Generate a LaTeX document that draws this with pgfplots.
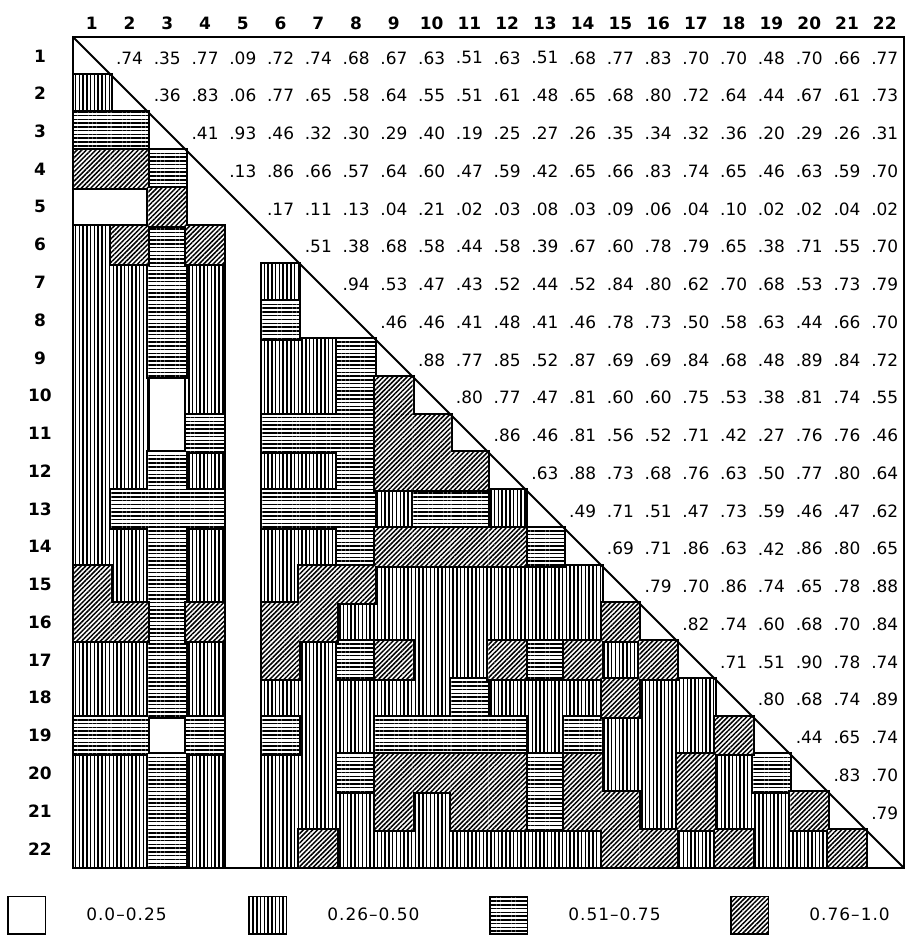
\documentclass[border=0pt]{standalone}
\usepackage{fontspec}
\setmainfont{DejaVu Sans}
\newfontfamily\legfont[LetterSpace=6]{DejaVu Sans}
\usepackage{pgfplots}
\usepackage{pgfplotstable}
\pgfplotsset{compat=1.18}
\usetikzlibrary{patterns.meta}
\tikzset{
  patV/.style={pattern={Lines[angle=90,distance=1.8909pt,line width=0.75pt]}, pattern color=black},
  patH/.style={pattern={Lines[angle=0,distance=1.8909pt,line width=0.75pt]}, pattern color=black},
  patD/.style={pattern={Lines[angle=45,distance=1.6713pt,line width=0.75pt]}, pattern color=black},
}
\pgfdeclareplotmark{cellS}{\path[draw=black, line width=2pt] (-9.4545pt,-9.4545pt) rectangle (9.4545pt,9.4545pt);}
\pgfdeclareplotmark{cellW}{\path[fill=white, draw=none] (-9.4545pt,-9.4545pt) rectangle (9.4545pt,9.4545pt);}
\pgfdeclareplotmark{cellV}{\path[fill=white, draw=none] (-9.4545pt,-9.4545pt) rectangle (9.4545pt,9.4545pt);\path[patV, draw=none] (-9.4545pt,-9.4545pt) rectangle (9.4545pt,9.4545pt);}
\pgfdeclareplotmark{cellH}{\path[fill=white, draw=none] (-9.4545pt,-9.4545pt) rectangle (9.4545pt,9.4545pt);\path[patH, draw=none] (-9.4545pt,-9.4545pt) rectangle (9.4545pt,9.4545pt);}
\pgfdeclareplotmark{cellD}{\path[fill=white, draw=none] (-9.4545pt,-9.4545pt) rectangle (9.4545pt,9.4545pt);\path[patD, draw=none] (-9.4545pt,-9.4545pt) rectangle (9.4545pt,9.4545pt);}
% lower triangle: cells (column x, row y) by class
\pgfplotstableread[row sep=\\]{x y\\
1 5\\ 2 5\\ 4 5\\ 7 8\\ 3 10\\ 3 11\\ 3 19\\
5 6\\ 5 7\\ 5 8\\ 5 9\\ 5 10\\ 5 11\\ 5 12\\ 5 13\\ 5 14\\ 5 15\\ 5 16\\ 5 17\\ 5 18\\ 5 19\\ 5 20\\ 5 21\\ 5 22\\
}\cellsW
\pgfplotstableread[row sep=\\]{x y\\
1 2\\ 1 6\\
1 7\\ 2 7\\ 4 7\\ 6 7\\
1 8\\ 2 8\\ 4 8\\
1 9\\ 2 9\\ 4 9\\ 6 9\\ 7 9\\
1 10\\ 2 10\\ 4 10\\ 6 10\\ 7 10\\
1 11\\ 2 11\\
1 12\\ 2 12\\ 4 12\\ 6 12\\ 7 12\\
1 13\\ 9 13\\ 12 13\\
1 14\\ 2 14\\ 4 14\\ 6 14\\ 7 14\\
2 15\\ 4 15\\ 6 15\\ 9 15\\ 10 15\\ 11 15\\ 12 15\\ 13 15\\ 14 15\\
8 16\\ 9 16\\ 10 16\\ 11 16\\ 12 16\\ 13 16\\ 14 16\\
1 17\\ 2 17\\ 4 17\\ 7 17\\ 10 17\\ 11 17\\ 15 17\\
1 18\\ 2 18\\ 4 18\\ 6 18\\ 7 18\\ 8 18\\ 9 18\\ 10 18\\ 12 18\\ 13 18\\ 14 18\\ 16 18\\ 17 18\\
7 19\\ 8 19\\ 13 19\\ 15 19\\ 16 19\\ 17 19\\
1 20\\ 2 20\\ 4 20\\ 6 20\\ 7 20\\ 15 20\\ 16 20\\ 18 20\\
1 21\\ 2 21\\ 4 21\\ 6 21\\ 7 21\\ 8 21\\ 10 21\\ 16 21\\ 18 21\\ 19 21\\
1 22\\ 2 22\\ 4 22\\ 6 22\\ 8 22\\ 9 22\\ 10 22\\ 11 22\\ 12 22\\ 13 22\\ 14 22\\ 17 22\\ 19 22\\ 20 22\\
}\cellsV
\pgfplotstableread[row sep=\\]{x y\\
1 3\\ 2 3\\ 3 4\\ 3 6\\ 3 7\\ 3 8\\ 6 8\\ 3 9\\ 8 9\\ 8 10\\
4 11\\ 6 11\\ 7 11\\ 8 11\\ 3 12\\ 8 12\\
2 13\\ 3 13\\ 4 13\\ 6 13\\ 7 13\\ 8 13\\ 10 13\\ 11 13\\
3 14\\ 8 14\\ 13 14\\ 3 15\\ 3 16\\ 3 17\\ 8 17\\ 13 17\\ 3 18\\ 11 18\\
1 19\\ 2 19\\ 4 19\\ 6 19\\ 9 19\\ 10 19\\ 11 19\\ 12 19\\ 14 19\\
3 20\\ 8 20\\ 13 20\\ 19 20\\ 3 21\\ 13 21\\ 3 22\\
}\cellsH
\pgfplotstableread[row sep=\\]{x y\\
1 4\\ 2 4\\ 3 5\\ 2 6\\ 4 6\\ 9 10\\ 9 11\\ 10 11\\ 9 12\\ 10 12\\ 11 12\\
9 14\\ 10 14\\ 11 14\\ 12 14\\ 1 15\\ 7 15\\ 8 15\\
1 16\\ 2 16\\ 4 16\\ 6 16\\ 7 16\\ 15 16\\
6 17\\ 9 17\\ 12 17\\ 14 17\\ 16 17\\ 15 18\\ 18 19\\
9 20\\ 10 20\\ 11 20\\ 12 20\\ 14 20\\ 17 20\\
9 21\\ 11 21\\ 12 21\\ 14 21\\ 15 21\\ 17 21\\ 20 21\\
7 22\\ 15 22\\ 16 22\\ 18 22\\ 21 22\\
}\cellsD
\begin{document}
\begin{tikzpicture}
\begin{axis}[
  scale only axis, width=416pt, height=416pt,
  xmin=0.5, xmax=22.5, ymin=0.5, ymax=22.5,
  y dir=reverse,
  axis on top,
  clip marker paths=true,
  axis line style={line width=1pt},
  xtick={1,...,22}, ytick={1,...,22},
  major tick length=0pt,
  xticklabel pos=right,
  /pgf/number format/assume math mode=true,
  xticklabel style={anchor=center, yshift=7pt, font=\fontsize{8.5}{10}\selectfont\bfseries},
  yticklabel style={anchor=center, xshift=-16.5pt, font=\fontsize{8.5}{10}\selectfont\bfseries},
  legend columns=4,
  legend style={at={(axis description cs:0,0)}, anchor=north west, xshift=-33pt, yshift=-14pt,
    draw=none, fill=none, inner sep=0pt, outer sep=0pt, nodes={inner sep=0pt},
    /tikz/every odd column/.style={column sep=0pt},
    font=\legfont\fontsize{8.5}{10}\selectfont},
  legend cell align=left,
]
% 0.0-0.25 (no outline of its own)
\addplot[only marks, mark=cellW,
  legend image code/.code={\draw[line width=0.8pt] (0pt,-9.45pt) rectangle (18.9pt,9.45pt);}]
  table {\cellsW};
\addlegendentry{\makebox[101pt][l]{\hspace{20pt}0.0\textendash0.25}}
% 0.26-0.50
\addplot[forget plot, only marks, mark=cellS] table {\cellsV};
\addplot[only marks, mark=cellV,
  legend image code/.code={\draw[patV, line width=0.8pt] (0pt,-9.45pt) rectangle (18.9pt,9.45pt);}]
  table {\cellsV};
\addlegendentry{\makebox[101pt][l]{\hspace{20pt}0.26\textendash0.50}}
% 0.51-0.75
\addplot[forget plot, only marks, mark=cellS] table {\cellsH};
\addplot[only marks, mark=cellH,
  legend image code/.code={\draw[patH, line width=0.8pt] (0pt,-9.45pt) rectangle (18.9pt,9.45pt);}]
  table {\cellsH};
\addlegendentry{\makebox[101pt][l]{\hspace{20pt}0.51\textendash0.75}}
% 0.76-1.0
\addplot[forget plot, only marks, mark=cellS] table {\cellsD};
\addplot[only marks, mark=cellD,
  legend image code/.code={\draw[patD, line width=0.8pt] (0pt,-9.45pt) rectangle (18.9pt,9.45pt);}]
  table {\cellsD};
\addlegendentry{\hspace{20pt}0.76\textendash1.0}
% upper triangle values
\addplot[forget plot, only marks, mark=none, point meta=explicit,
  nodes near coords={\pgfmathprintnumber[fixed,fixed zerofill,precision=2,skip 0.]{\pgfplotspointmeta}},
  every node near coord/.append style={anchor=center, yshift=-1pt, font=\fontsize{8.5}{10}\selectfont}]
coordinates {
 (2,1)[0.74] (3,1)[0.35] (4,1)[0.77] (5,1)[0.09] (6,1)[0.72] (7,1)[0.74] (8,1)[0.68] (9,1)[0.67] (10,1)[0.63] (11,1)[0.51] (12,1)[0.63] (13,1)[0.51] (14,1)[0.68] (15,1)[0.77] (16,1)[0.83] (17,1)[0.70] (18,1)[0.70] (19,1)[0.48] (20,1)[0.70] (21,1)[0.66] (22,1)[0.77]
 (3,2)[0.36] (4,2)[0.83] (5,2)[0.06] (6,2)[0.77] (7,2)[0.65] (8,2)[0.58] (9,2)[0.64] (10,2)[0.55] (11,2)[0.51] (12,2)[0.61] (13,2)[0.48] (14,2)[0.65] (15,2)[0.68] (16,2)[0.80] (17,2)[0.72] (18,2)[0.64] (19,2)[0.44] (20,2)[0.67] (21,2)[0.61] (22,2)[0.73]
 (4,3)[0.41] (5,3)[0.93] (6,3)[0.46] (7,3)[0.32] (8,3)[0.30] (9,3)[0.29] (10,3)[0.40] (11,3)[0.19] (12,3)[0.25] (13,3)[0.27] (14,3)[0.26] (15,3)[0.35] (16,3)[0.34] (17,3)[0.32] (18,3)[0.36] (19,3)[0.20] (20,3)[0.29] (21,3)[0.26] (22,3)[0.31]
 (5,4)[0.13] (6,4)[0.86] (7,4)[0.66] (8,4)[0.57] (9,4)[0.64] (10,4)[0.60] (11,4)[0.47] (12,4)[0.59] (13,4)[0.42] (14,4)[0.65] (15,4)[0.66] (16,4)[0.83] (17,4)[0.74] (18,4)[0.65] (19,4)[0.46] (20,4)[0.63] (21,4)[0.59] (22,4)[0.70]
 (6,5)[0.17] (7,5)[0.11] (8,5)[0.13] (9,5)[0.04] (10,5)[0.21] (11,5)[0.02] (12,5)[0.03] (13,5)[0.08] (14,5)[0.03] (15,5)[0.09] (16,5)[0.06] (17,5)[0.04] (18,5)[0.10] (19,5)[0.02] (20,5)[0.02] (21,5)[0.04] (22,5)[0.02]
 (7,6)[0.51] (8,6)[0.38] (9,6)[0.68] (10,6)[0.58] (11,6)[0.44] (12,6)[0.58] (13,6)[0.39] (14,6)[0.67] (15,6)[0.60] (16,6)[0.78] (17,6)[0.79] (18,6)[0.65] (19,6)[0.38] (20,6)[0.71] (21,6)[0.55] (22,6)[0.70]
 (8,7)[0.94] (9,7)[0.53] (10,7)[0.47] (11,7)[0.43] (12,7)[0.52] (13,7)[0.44] (14,7)[0.52] (15,7)[0.84] (16,7)[0.80] (17,7)[0.62] (18,7)[0.70] (19,7)[0.68] (20,7)[0.53] (21,7)[0.73] (22,7)[0.79]
 (9,8)[0.46] (10,8)[0.46] (11,8)[0.41] (12,8)[0.48] (13,8)[0.41] (14,8)[0.46] (15,8)[0.78] (16,8)[0.73] (17,8)[0.50] (18,8)[0.58] (19,8)[0.63] (20,8)[0.44] (21,8)[0.66] (22,8)[0.70]
 (10,9)[0.88] (11,9)[0.77] (12,9)[0.85] (13,9)[0.52] (14,9)[0.87] (15,9)[0.69] (16,9)[0.69] (17,9)[0.84] (18,9)[0.68] (19,9)[0.48] (20,9)[0.89] (21,9)[0.84] (22,9)[0.72]
 (11,10)[0.80] (12,10)[0.77] (13,10)[0.47] (14,10)[0.81] (15,10)[0.60] (16,10)[0.60] (17,10)[0.75] (18,10)[0.53] (19,10)[0.38] (20,10)[0.81] (21,10)[0.74] (22,10)[0.55]
 (12,11)[0.86] (13,11)[0.46] (14,11)[0.81] (15,11)[0.56] (16,11)[0.52] (17,11)[0.71] (18,11)[0.42] (19,11)[0.27] (20,11)[0.76] (21,11)[0.76] (22,11)[0.46]
 (13,12)[0.63] (14,12)[0.88] (15,12)[0.73] (16,12)[0.68] (17,12)[0.76] (18,12)[0.63] (19,12)[0.50] (20,12)[0.77] (21,12)[0.80] (22,12)[0.64]
 (14,13)[0.49] (15,13)[0.71] (16,13)[0.51] (17,13)[0.47] (18,13)[0.73] (19,13)[0.59] (20,13)[0.46] (21,13)[0.47] (22,13)[0.62]
 (15,14)[0.69] (16,14)[0.71] (17,14)[0.86] (18,14)[0.63] (19,14)[0.42] (20,14)[0.86] (21,14)[0.80] (22,14)[0.65]
 (16,15)[0.79] (17,15)[0.70] (18,15)[0.86] (19,15)[0.74] (20,15)[0.65] (21,15)[0.78] (22,15)[0.88]
 (17,16)[0.82] (18,16)[0.74] (19,16)[0.60] (20,16)[0.68] (21,16)[0.70] (22,16)[0.84]
 (18,17)[0.71] (19,17)[0.51] (20,17)[0.90] (21,17)[0.78] (22,17)[0.74]
 (19,18)[0.80] (20,18)[0.68] (21,18)[0.74] (22,18)[0.89]
 (20,19)[0.44] (21,19)[0.65] (22,19)[0.74]
 (21,20)[0.83] (22,20)[0.70]
 (22,21)[0.79]
};
% diagonal
\addplot[forget plot, black, line width=1pt] coordinates {(0.5,0.5) (22.5,22.5)};
\end{axis}
\path ([xshift=-36.5pt,yshift=-33.5pt]current axis.south west) rectangle ([xshift=7.5pt,yshift=18.5pt]current axis.north east);
\end{tikzpicture}
\end{document}
